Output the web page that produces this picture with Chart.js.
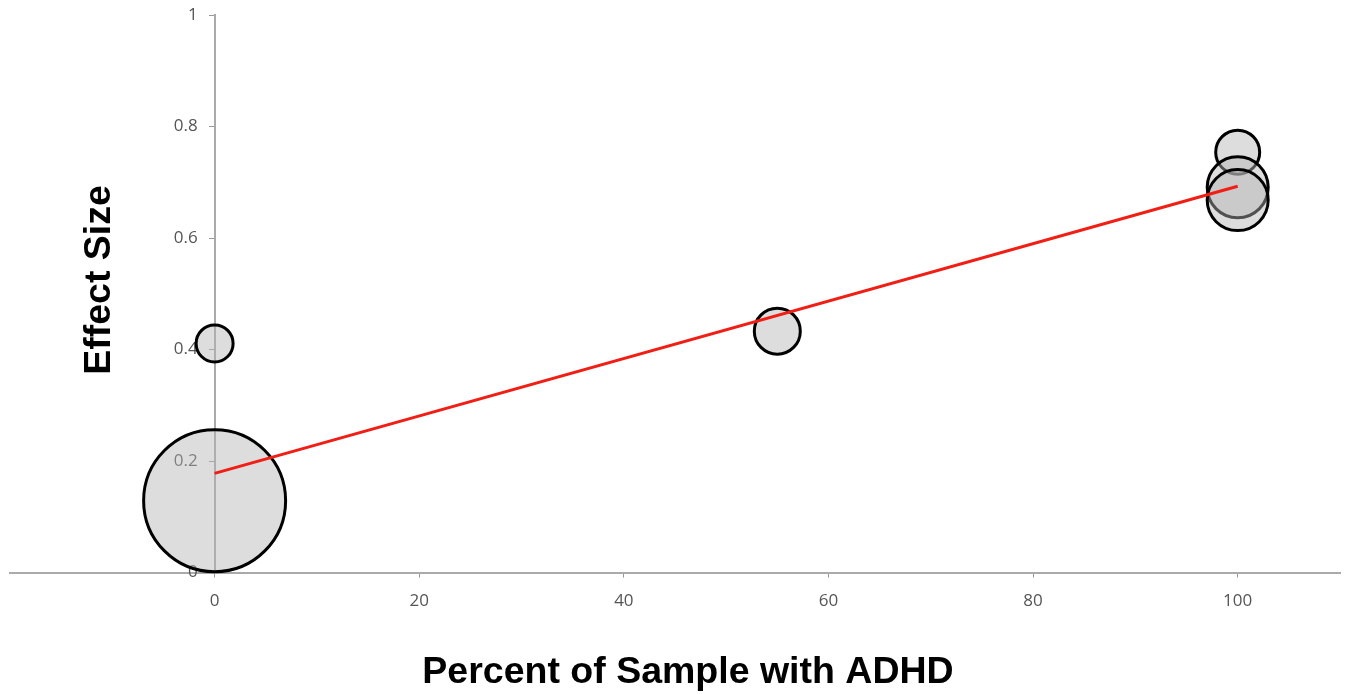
<!DOCTYPE html>
<html lang="en">
<head>
<meta charset="UTF-8">
<title>Effect Size vs Percent of Sample with ADHD</title>
<script src="https://cdn.jsdelivr.net/npm/chart.js"></script>
<style>
    body { margin: 0; padding: 0; background: #fff; }
    #wrap { width: 1347px; height: 694px; position: relative; }
</style>
</head>
<body>
<div id="wrap"><canvas id="chart"></canvas></div>
<script>
// data
const studyPercentAdhd = [0, 0, 55, 100, 100, 100];
const studyEffectSize = [0.129, 0.411, 0.433, 0.754, 0.691, 0.668];
const studyBubbleRadius = [71, 18.5, 23, 22, 30.5, 30.5];

const trendPercent = [0, 100];
const trendEffect = [0.178, 0.693];

const xTickValues = [0, 20, 40, 60, 80, 100];
const yTickValues = [0, 0.2, 0.4, 0.6, 0.8, 1];

const xTitle = 'Percent of Sample with ADHD';
const yTitle = 'Effect Size';

const bubbles = studyPercentAdhd.map((x, i) => ({ x: x, y: studyEffectSize[i], r: studyBubbleRadius[i] }));
const trend = trendPercent.map((x, i) => ({ x: x, y: trendEffect[i] }));

// axis titles drawn by hand: the y axis sits at x = 0 inside the plot
const titlesPlugin = {
    id: 'axisTitles',
    afterDraw(chart) {
        const c = chart.ctx;
        c.save();
        c.font = 'bold 37.5px "Liberation Sans", Arial, sans-serif';
        c.fillStyle = '#000';
        c.textAlign = 'center';
        c.textBaseline = 'middle';
        c.fillText(xTitle, 688, 673);
        c.translate(100, 280);
        c.rotate(-Math.PI / 2);
        c.fillText(yTitle, 0, 0);
        c.restore();
    }
};

new Chart(document.getElementById('chart'), {
    type: 'bubble',
    data: {
        datasets: [
            {
                type: 'line',
                data: trend,
                borderColor: 'rgb(240,30,20)',
                borderWidth: 3,
                pointRadius: 0,
                fill: false,
                clip: false
            },
            {
                data: bubbles,
                backgroundColor: 'rgba(180,180,180,0.45)',
                borderColor: '#000',
                borderWidth: 3,
                clip: false
            }
        ]
    },
    options: {
        responsive: true,
        maintainAspectRatio: false,
        animation: false,
        layout: { autoPadding: false, padding: { left: 10, right: 7, top: 15, bottom: 70 } },
        plugins: { legend: { display: false }, tooltip: { enabled: false } },
        scales: {
            x: {
                type: 'linear',
                min: -20,
                max: 110,
                afterBuildTicks: s => { s.ticks = xTickValues.map(v => ({ value: v })); },
                grid: { drawOnChartArea: false, tickLength: 5, tickColor: '#999', tickWidth: 1 },
                border: { color: '#aaa', width: 2 },
                ticks: { padding: 13, color: '#555', font: { family: '"Open Sans", sans-serif', size: 17 }, maxRotation: 0 }
            },
            y: {
                type: 'linear',
                min: 0,
                max: 1,
                position: { x: 0 },
                afterBuildTicks: s => { s.ticks = yTickValues.map(v => ({ value: v })); },
                grid: { drawOnChartArea: false, tickLength: 5, tickColor: '#999', tickWidth: 1 },
                border: { color: '#aaa', width: 2 },
                // labels of an axis placed at a value get no padding, so keep a gap with spaces
                ticks: {
                    color: '#555',
                    font: { family: '"Open Sans", sans-serif', size: 17 },
                    callback: v => String(v) + '\u2003'
                }
            }
        }
    },
    plugins: [titlesPlugin]
});
</script>
</body>
</html>
